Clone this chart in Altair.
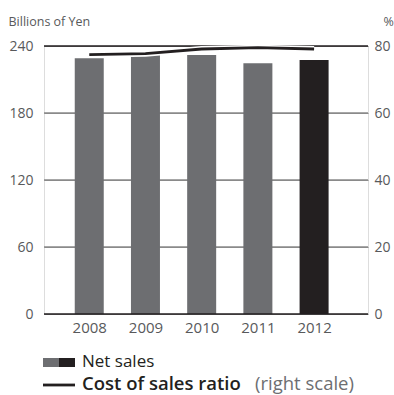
import altair as alt
import pandas as pd

years = [2008, 2009, 2010, 2011, 2012]
net_sales = [229, 235.5, 232, 224.5, 227.5]
cost_ratio = [77.4, 77.7, 79.1, 79.5, 79.1]
bar_group = ["past", "past", "past", "past", "current"]
left_ticks = [0, 60, 120, 180, 240]
right_ticks = [0, 20, 40, 60, 80]
grid_values = [60, 120, 180]
frame_values = [0, 240]

df = pd.DataFrame({"year": years, "sales": net_sales, "ratio": cost_ratio, "group": bar_group})
grid_df = pd.DataFrame({"g": grid_values})
frame_df = pd.DataFrame({"f": frame_values})
one = pd.DataFrame({"a": [0]})

FONT = "Open Sans"
DARK = "#231f20"
GRAY = "#6d6e71"
GRID = "#8a8a8a"
LABEL = "#58595b"
W, H = 324, 268

xscale = alt.Scale(domain=[2007.284, 2012.87], nice=False, zero=False)
lscale = alt.Scale(domain=[0, 240], nice=False)
rscale = alt.Scale(domain=[0, 80], nice=False)

xenc = alt.X("year:Q", scale=xscale,
             axis=alt.Axis(values=years, format="d", grid=False, ticks=False, domain=False,
                           labelPadding=6, labelFontSize=15, labelColor=LABEL, title=None))

grid = alt.Chart(grid_df).mark_rule(color=GRID, strokeWidth=1.5).encode(
    x=alt.value(0), x2=alt.value(W),
    y=alt.Y("g:Q", scale=lscale, axis=None),
)
frame = alt.Chart(frame_df).mark_rule(color=DARK, strokeWidth=1.3).encode(
    x=alt.value(0), x2=alt.value(W),
    y=alt.Y("f:Q", scale=lscale, axis=None),
)

bars = alt.Chart(df).mark_bar(size=29).encode(
    x=xenc,
    y=alt.Y("sales:Q", scale=lscale,
            axis=alt.Axis(orient="left", values=left_ticks, grid=True, gridColor=GRID, gridWidth=1,
                          ticks=False, domain=False, labelPadding=11, labelFontSize=14,
                          labelColor=LABEL, title="Billions of Yen", titleAngle=0,
                          titleAlign="left", titleX=-36, titleY=-21, titleBaseline="alphabetic",
                          titleFontSize=12.5, titleFontWeight="normal", titleColor=LABEL)),
    color=alt.Color("group:N", scale=alt.Scale(domain=["past", "current"], range=[GRAY, DARK]),
                    legend=None),
)

halo = alt.Chart(df).mark_line(color="white", strokeWidth=6).encode(
    x=xenc,
    y=alt.Y("ratio:Q", scale=rscale, axis=None),
)
line = alt.Chart(df).mark_line(color=DARK, strokeWidth=2.8).encode(
    x=xenc,
    y=alt.Y("ratio:Q", scale=rscale,
            axis=alt.Axis(orient="right", values=right_ticks, grid=False, ticks=False, domain=False,
                          labelPadding=6, labelFontSize=14, labelColor=LABEL, title="%",
                          titleAngle=0, titleAlign="left", titleX=15, titleY=-21,
                          titleBaseline="alphabetic", titleFontSize=12.5,
                          titleFontWeight="normal", titleColor=LABEL)),
)

# legend
sw1 = alt.Chart(one).mark_rect(color=GRAY).encode(
    x=alt.value(-1), x2=alt.value(15), y=alt.value(312), y2=alt.value(321))
sw2 = alt.Chart(one).mark_rect(color=DARK).encode(
    x=alt.value(15), x2=alt.value(31), y=alt.value(312), y2=alt.value(321))
sw3 = alt.Chart(one).mark_rule(color=DARK, strokeWidth=2.8).encode(
    x=alt.value(-1), x2=alt.value(31), y=alt.value(339))
t1 = alt.Chart(one).mark_text(align="left", baseline="alphabetic", fontSize=17, color=DARK, font=FONT).encode(
    x=alt.value(38), y=alt.value(321), text=alt.value("Net sales"))
t2 = alt.Chart(one).mark_text(align="left", baseline="alphabetic", fontSize=18.5, fontWeight=600,
                              color=DARK, font=FONT).encode(
    x=alt.value(38), y=alt.value(344), text=alt.value("Cost of sales ratio"))
t3 = alt.Chart(one).mark_text(align="left", baseline="alphabetic", fontSize=18.5, color="#6d6e71", font=FONT).encode(
    x=alt.value(211), y=alt.value(344), text=alt.value("(right scale)"))

chart = alt.layer(grid, bars, frame, halo, line, sw1, sw2, sw3, t1, t2, t3).resolve_scale(
    y="independent"
).properties(
    width=W, height=H,
    padding={"left": 44, "top": 46, "right": 26, "bottom": 81},
    autosize="none",
).configure_view(strokeWidth=0, stroke="transparent").configure(font=FONT)

chart.save("out.html", embed_options={"renderer": "svg", "actions": False})
